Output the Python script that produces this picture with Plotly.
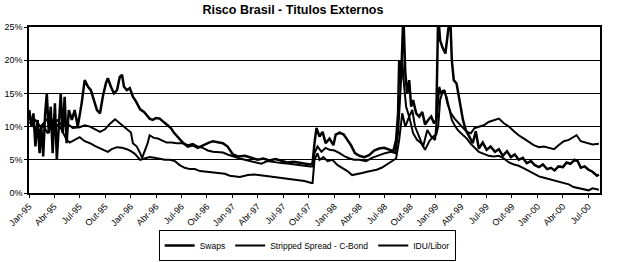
import plotly.graph_objects as go

# ---------------- data ----------------
swaps_dates = [
    "1995-01-02","1995-01-10","1995-01-17","1995-01-24","1995-02-01","1995-02-08","1995-02-14","1995-02-21",
    "1995-02-28","1995-03-06","1995-03-13","1995-03-20","1995-03-27","1995-04-04","1995-04-11","1995-04-18",
    "1995-04-25","1995-05-02","1995-05-09","1995-05-16","1995-05-24","1995-06-04","1995-06-14","1995-06-25",
    "1995-07-09","1995-07-20","1995-08-01","1995-08-11","1995-08-22","1995-09-02","1995-09-13","1995-09-23",
    "1995-10-04","1995-10-11","1995-10-22","1995-11-02","1995-11-13","1995-11-23","1995-12-01","1995-12-08",
    "1995-12-18","1995-12-29",
    "1996-01-09","1996-01-20","1996-02-04","1996-02-18","1996-02-28","1996-03-09","1996-03-20","1996-04-01",
    "1996-04-14","1996-04-28","1996-05-13","1996-05-24","1996-06-04","1996-06-18","1996-07-06","1996-07-24",
    "1996-08-11","1996-08-29","1996-09-16","1996-10-04","1996-10-22","1996-11-09","1996-11-27","1996-12-14",
    "1997-01-02","1997-01-20","1997-02-14","1997-03-09","1997-04-01","1997-04-21","1997-05-13","1997-06-04",
    "1997-06-25","1997-07-16","1997-08-08","1997-08-29","1997-09-20","1997-10-08","1997-10-15","1997-10-22",
    "1997-10-29","1997-11-09","1997-11-20","1997-12-01","1997-12-15","1997-12-29",
    "1998-01-06","1998-01-20","1998-02-04","1998-02-17","1998-03-02","1998-03-16","1998-04-01","1998-04-18",
    "1998-05-06","1998-05-24","1998-06-11","1998-06-29","1998-07-16","1998-08-01","1998-08-11","1998-08-18",
    "1998-08-22","1998-08-29","1998-09-06","1998-09-13","1998-09-20","1998-09-27","1998-10-04","1998-10-11",
    "1998-10-22","1998-11-02","1998-11-13","1998-11-23","1998-12-04","1998-12-15","1998-12-25",
    "1999-01-02","1999-01-06","1999-01-09","1999-01-16","1999-01-24","1999-02-04","1999-02-14","1999-02-21",
    "1999-02-27","1999-03-06","1999-03-16","1999-03-27","1999-04-08","1999-04-18","1999-04-29","1999-05-13",
    "1999-05-24","1999-06-04","1999-06-18","1999-07-02","1999-07-16","1999-08-01","1999-08-15","1999-08-29",
    "1999-09-13","1999-09-27","1999-10-11","1999-10-25","1999-11-09","1999-11-23","1999-12-08","1999-12-22",
    "2000-01-06","2000-01-20","2000-02-04","2000-02-18","2000-03-02","2000-03-16","2000-04-01","2000-04-14",
    "2000-04-28","2000-05-13","2000-05-24","2000-06-04","2000-06-18","2000-07-02","2000-07-16","2000-08-01",
    "2000-08-08",
]
swaps_values = [
    12.5,10.0,12.0,7.0,11.0,6.0,10.0,5.5,
    12.0,15.0,9.0,13.0,6.0,13.5,5.0,11.0,
    15.0,9.0,14.5,7.5,12.5,11.0,12.5,10.0,
    13.5,17.0,16.0,15.5,14.0,12.5,12.0,14.5,
    16.5,17.3,16.0,15.0,15.5,17.5,17.8,16.0,
    15.5,15.8,
    14.5,13.8,12.6,12.2,11.7,11.2,11.0,11.3,
    11.2,10.7,10.3,9.8,9.1,8.4,7.6,7.0,
    7.2,6.8,7.2,7.5,7.8,7.6,7.5,7.0,
    5.8,5.5,5.6,5.3,5.0,5.2,4.9,5.1,
    4.8,4.6,4.7,4.5,4.4,4.3,4.5,7.5,
    9.8,8.5,9.2,7.5,8.2,7.2,
    8.8,9.1,8.8,8.0,7.2,6.0,5.6,5.4,
    5.7,6.4,6.7,6.8,6.6,6.3,8.0,12.0,
    20.0,17.0,27.0,18.0,15.0,17.0,13.0,14.0,
    12.0,11.5,12.2,10.3,11.0,11.5,10.5,
    11.0,20.0,27.0,23.0,22.0,21.0,24.0,27.0,
    20.0,17.0,16.5,14.0,11.0,9.5,8.7,7.5,
    9.3,6.7,7.6,6.5,7.0,6.2,6.6,5.6,
    6.3,5.4,5.8,5.0,5.3,4.5,4.8,4.2,
    3.9,4.3,3.6,3.8,3.4,4.0,3.9,4.6,
    4.4,5.0,4.8,3.8,4.0,3.5,3.2,2.6,
    2.8,
]

cbond_dates = [
    "1995-01-02","1995-01-17","1995-02-04","1995-02-21","1995-03-09","1995-03-27","1995-04-14","1995-05-02",
    "1995-05-20","1995-06-07","1995-07-02","1995-07-20","1995-08-08","1995-08-25","1995-09-13","1995-10-01",
    "1995-10-18","1995-11-06","1995-11-23","1995-12-08","1995-12-22",
    "1996-01-02","1996-01-09","1996-01-23","1996-02-04","1996-02-11","1996-02-22","1996-03-02","1996-03-09",
    "1996-03-24","1996-04-08","1996-04-22","1996-05-09","1996-05-27","1996-06-14","1996-07-06","1996-07-24",
    "1996-08-11","1996-08-29","1996-09-16","1996-10-04","1996-10-22","1996-11-09","1996-11-27","1996-12-14",
    "1997-01-02","1997-01-27","1997-02-25","1997-03-20","1997-04-14","1997-05-06","1997-06-01","1997-06-25",
    "1997-07-24","1997-08-22","1997-09-16","1997-10-08","1997-10-15","1997-10-22","1997-11-02","1997-11-16",
    "1997-12-01","1997-12-15",
    "1998-01-02","1998-01-20","1998-02-08","1998-02-25","1998-03-13","1998-04-01","1998-04-25","1998-05-16",
    "1998-06-11","1998-07-02","1998-07-24","1998-08-08","1998-08-18","1998-08-25","1998-09-02","1998-09-09",
    "1998-09-16","1998-09-27","1998-10-08","1998-10-18","1998-11-02","1998-11-16","1998-12-01","1998-12-15",
    "1998-12-29",
    "1999-01-06","1999-01-13","1999-01-20","1999-02-01","1999-02-11","1999-02-24","1999-03-09","1999-03-23",
    "1999-04-08","1999-04-22","1999-05-06","1999-05-20","1999-06-04","1999-06-22","1999-07-09","1999-07-27",
    "1999-08-15","1999-09-02","1999-09-20","1999-10-08","1999-10-25","1999-11-13","1999-12-01","1999-12-18",
    "2000-01-06","2000-01-24","2000-02-11","2000-02-29","2000-03-16","2000-04-04","2000-04-22","2000-05-09",
    "2000-05-20","2000-06-04","2000-06-18","2000-07-02","2000-07-16","2000-08-08",
]
cbond_values = [
    11.5,10.0,9.2,10.2,9.0,10.6,11.0,10.0,
    10.4,9.8,9.9,10.2,10.0,9.6,9.2,9.6,
    10.4,11.1,10.5,10.0,9.5,
    9.1,7.5,7.0,6.0,5.3,6.5,7.5,8.7,
    8.3,8.2,7.9,7.6,7.6,7.5,7.5,7.2,
    7.4,7.0,6.8,6.4,6.2,6.2,6.1,5.8,
    5.5,5.2,4.9,4.7,4.4,4.8,4.6,4.5,
    4.4,4.2,4.1,4.0,4.0,6.0,7.0,6.2,
    6.8,6.5,
    6.4,6.0,5.5,5.2,5.0,5.0,4.8,5.3,
    5.7,6.0,6.2,6.0,9.0,14.0,20.0,16.0,
    13.0,11.5,12.5,10.0,8.5,7.0,9.5,8.5,
    8.0,
    12.0,16.0,15.0,15.5,13.5,12.0,11.2,10.5,
    9.8,9.2,9.0,9.8,10.0,10.2,10.7,11.0,
    11.2,10.5,10.0,9.3,8.7,8.2,7.7,7.2,
    6.9,7.0,6.8,6.6,7.2,7.8,8.0,8.4,
    8.7,7.8,7.6,7.5,7.3,7.4,
]

idu_dates = [
    "1995-01-02","1995-01-24","1995-02-11","1995-02-28","1995-03-16","1995-04-04","1995-04-22","1995-05-02",
    "1995-05-16","1995-05-27","1995-06-14","1995-07-02","1995-07-20","1995-08-08","1995-08-25","1995-09-13",
    "1995-10-01","1995-10-11","1995-10-25","1995-11-13","1995-12-01","1995-12-18",
    "1996-01-02","1996-01-16","1996-02-04","1996-02-22","1996-03-09","1996-03-27","1996-04-14","1996-05-02",
    "1996-05-20","1996-06-08","1996-06-25","1996-07-13","1996-08-01","1996-08-18","1996-09-06","1996-09-24",
    "1996-10-11","1996-10-29","1996-11-16","1996-12-04","1996-12-22",
    "1997-01-27","1997-02-25","1997-03-20","1997-04-25","1997-06-01","1997-07-06","1997-08-11","1997-09-16",
    "1997-10-11","1997-10-15","1997-10-22","1997-11-02","1997-11-09","1997-11-23","1997-12-08","1997-12-25",
    "1998-01-13","1998-02-01","1998-02-17","1998-03-06","1998-03-24","1998-04-11","1998-04-29","1998-05-16",
    "1998-06-02","1998-06-20","1998-07-09","1998-07-27","1998-08-11","1998-08-22","1998-09-02","1998-09-13",
    "1998-09-27","1998-10-11","1998-10-25","1998-11-09","1998-11-23","1998-12-08","1998-12-22",
    "1999-01-02","1999-01-09","1999-01-16","1999-01-27","1999-02-08","1999-02-18","1999-02-27","1999-03-09",
    "1999-03-20","1999-04-01","1999-04-11","1999-04-22","1999-05-06","1999-05-20","1999-06-04","1999-06-22",
    "1999-07-09","1999-07-27","1999-08-15","1999-09-02","1999-09-20","1999-10-08","1999-10-25","1999-11-13",
    "1999-12-01","1999-12-18",
    "2000-01-06","2000-01-24","2000-02-11","2000-02-29","2000-03-16","2000-04-04","2000-04-22","2000-05-09",
    "2000-05-27","2000-06-14","2000-07-02","2000-07-16","2000-08-08",
]
idu_values = [
    10.5,11.0,10.0,10.8,11.5,10.5,10.0,9.2,
    8.0,7.6,8.0,8.4,7.8,7.5,7.1,6.7,
    6.4,6.2,6.6,6.9,6.8,6.6,
    6.3,5.9,5.0,5.2,5.4,5.3,5.1,5.0,
    5.0,4.8,4.2,3.8,3.6,3.6,3.3,3.2,
    3.1,3.0,3.0,2.9,2.6,
    2.4,2.7,2.8,2.6,2.4,2.2,2.0,1.8,
    1.5,1.5,5.0,6.0,5.0,5.4,4.8,5.0,
    4.2,3.7,3.3,2.7,2.8,3.0,3.2,3.3,
    3.5,3.8,4.3,4.7,5.2,8.0,12.0,10.0,
    11.5,9.0,8.0,7.5,6.5,7.8,8.5,
    8.8,10.0,14.0,15.5,14.5,12.5,11.0,10.2,
    9.5,9.0,8.6,8.2,7.4,6.8,6.2,5.9,
    5.6,5.5,5.6,5.2,4.6,4.3,4.1,3.7,
    3.3,2.9,
    2.5,2.3,2.1,1.9,1.8,1.5,1.3,0.9,
    0.7,0.6,0.4,0.7,0.5,
]

tick_dates = [
    "1995-01-01","1995-04-01","1995-07-01","1995-10-01","1996-01-01","1996-04-01","1996-07-01","1996-10-01",
    "1997-01-01","1997-04-01","1997-07-01","1997-10-01","1998-01-01","1998-04-01","1998-07-01","1998-10-01",
    "1999-01-01","1999-04-01","1999-07-01","1999-10-01","2000-01-01","2000-04-01","2000-07-01",
]
tick_labels = [
    "Jan-95","Abr-95","Jul-95","Out-95","Jan-96","Abr-96","Jul-96","Out-96",
    "Jan-97","Abr-97","Jul-97","Out-97","Jan-98","Abr-98","Jul-98","Out-98",
    "Jan-99","Abr-99","Jul-99","Out-99","Jan-00","Abr-00","Jul-00",
]
y_ticks = [0, 5, 10, 15, 20, 25]
y_labels = ["0%", "5%", "10%", "15%", "20%", "25%"]

# ---------------- figure ----------------
FONT = "Liberation Sans, Arial, sans-serif"
fig = go.Figure()
fig.add_trace(go.Scatter(x=swaps_dates, y=swaps_values, mode="lines", name="Swaps",
                         line=dict(color="#000000", width=2.5)))
fig.add_trace(go.Scatter(x=cbond_dates, y=cbond_values, mode="lines", name="Stripped Spread - C-Bond",
                         line=dict(color="#000000", width=2)))
fig.add_trace(go.Scatter(x=idu_dates, y=idu_values, mode="lines", name="IDU/Libor",
                         line=dict(color="#000000", width=2)))

fig.update_layout(
    width=618, height=262,
    margin=dict(l=29, r=18, t=27, b=69, autoexpand=False),
    paper_bgcolor="white", plot_bgcolor="white",
    font=dict(family=FONT, size=8, color="black"),
    title=dict(text="<b>Risco Brasil - Titulos Externos</b>", x=0.474, xref="container",
               y=0.962, yref="container", xanchor="center", yanchor="middle",
               font=dict(family=FONT, size=12.5, color="black")),
    showlegend=True,
    legend=dict(orientation="h", x=0.497, xref="container", xanchor="center",
                y=0.122, yref="container", yanchor="top",
                bordercolor="black", borderwidth=1, bgcolor="white",
                font=dict(family=FONT, size=8.5, color="black"),
                itemwidth=30, tracegroupgap=0),
)
fig.update_xaxes(
    type="date", range=["1995-01-01", "2000-08-12"], automargin=False,
    tickmode="array", tickvals=tick_dates, ticktext=tick_labels, tickangle=-45,
    tickfont=dict(family=FONT, size=9),
    showgrid=False, zeroline=False,
    showline=True, linecolor="black", linewidth=1.5, mirror=True,
    ticks="outside", ticklen=3, tickcolor="black",
)
fig.update_yaxes(
    range=[0, 25], automargin=False, tickmode="array", tickvals=y_ticks, ticktext=y_labels,
    tickfont=dict(family=FONT, size=9),
    showgrid=True, gridcolor="black", gridwidth=1.2, zeroline=False,
    showline=True, linecolor="black", linewidth=1.5, mirror=True,
    ticks="outside", ticklen=3, tickcolor="black",
)

fig.write_html("out.html")
